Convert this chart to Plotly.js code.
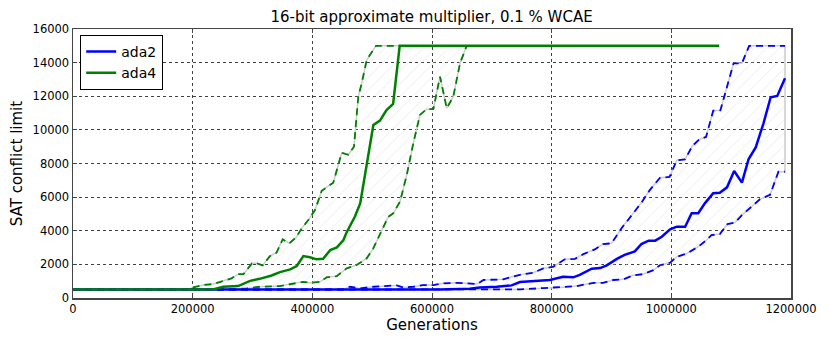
<!DOCTYPE html>
<html>
<head>
<meta charset="utf-8">
<script src="https://cdn.plot.ly/plotly-3.0.1.min.js"></script>
<style>
  html, body { margin: 0; padding: 0; background: #fff; }
  #plot { width: 830px; height: 346px; }
</style>
</head>
<body>
<div id="plot"></div>
<script>
// ada2 (blue): mean and upper / lower band
const ada2X = [0, 600000, 613000, 663000, 680000, 708000, 733000, 747000, 769000, 797000, 819000, 836000, 847000, 867000, 881000, 892000, 909000, 922000, 939000, 950000, 962000, 973000, 984000, 998000, 1009000, 1023000, 1034000, 1045000, 1056000, 1070000, 1081000, 1093000, 1105000, 1118000, 1129000, 1141000, 1154000, 1166000, 1177000, 1190000];
const ada2Y = [500, 500, 510, 550, 630, 670, 750, 950, 990, 1070, 1260, 1230, 1380, 1740, 1780, 1940, 2330, 2570, 2770, 3210, 3410, 3410, 3640, 4080, 4240, 4240, 5040, 5040, 5630, 6230, 6260, 6580, 7550, 6860, 8250, 8960, 10390, 11940, 12020, 13070];

const ada2UpX = [0, 450000, 463000, 480000, 502000, 524000, 541000, 552000, 569000, 585000, 602000, 619000, 641000, 658000, 675000, 686000, 719000, 733000, 753000, 769000, 786000, 803000, 822000, 839000, 853000, 872000, 886000, 900000, 917000, 934000, 950000, 964000, 981000, 997000, 1009000, 1023000, 1035000, 1047000, 1058000, 1070000, 1082000, 1104000, 1118000, 1130000, 1190000];
const ada2UpY = [500, 500, 670, 570, 670, 710, 750, 630, 670, 770, 770, 870, 900, 870, 830, 1070, 1110, 1260, 1420, 1500, 1760, 1860, 2300, 2330, 2610, 2890, 3210, 3250, 4160, 4930, 5670, 6420, 7150, 7200, 8190, 8250, 9040, 9440, 9580, 11140, 11160, 13960, 13960, 15000, 15000];

const ada2LoX = [0, 663000, 702000, 747000, 786000, 814000, 842000, 870000, 886000, 903000, 920000, 936000, 953000, 970000, 981000, 998000, 1009000, 1026000, 1045000, 1059000, 1067000, 1081000, 1094000, 1106000, 1118000, 1134000, 1148000, 1165000, 1179000, 1190000];
const ada2LoY = [500, 500, 510, 510, 590, 630, 710, 900, 900, 1070, 1110, 1350, 1420, 1660, 1950, 2100, 2450, 2650, 3050, 3450, 3740, 3800, 4400, 4480, 4930, 5430, 5870, 6140, 7510, 7510];

// ada4 (green): mean and upper / lower band
const ada4X = [0, 200000, 234000, 251000, 276000, 296000, 312000, 332000, 346000, 363000, 374000, 385000, 396000, 407000, 418000, 430000, 441000, 452000, 457000, 471000, 480000, 502000, 513000, 524000, 535000, 546000, 1080000];
const ada4Y = [500, 500, 510, 670, 710, 1020, 1140, 1340, 1540, 1700, 1900, 2490, 2420, 2300, 2330, 2850, 3010, 3450, 3880, 4830, 5630, 10290, 10550, 11180, 11540, 15000, 15000];

const ada4UpX = [0, 190000, 201000, 218000, 234500, 251000, 265000, 276000, 285000, 299000, 307000, 317000, 329000, 340000, 350500, 361500, 372700, 382200, 393300, 404500, 415700, 435000, 449100, 460100, 469600, 476800, 482500, 490900, 499200, 506400, 658000];
const ada4UpY = [500, 500, 630, 770, 830, 1020, 1170, 1420, 1420, 2060, 2060, 1940, 2490, 2690, 3490, 3250, 3600, 4140, 4640, 5230, 6380, 6860, 8640, 8520, 9000, 11980, 12770, 14160, 14650, 15000, 15000];

const ada4LoX = [0, 234500, 290300, 312500, 346000, 368200, 385000, 396100, 412800, 424000, 440700, 457400, 474100, 490900, 501900, 513100, 527000, 535300, 546500, 557700, 568700, 579900, 591100, 602200, 613400, 624600, 635600, 646800, 658000];
const ada4LoY = [500, 500, 570, 670, 710, 870, 960, 900, 960, 1230, 1300, 1760, 1960, 2360, 2950, 3800, 4830, 5040, 5730, 7300, 9200, 10890, 11230, 11230, 13170, 11290, 11980, 13960, 15000];

const blue = '#0000ff';
const green = '#008000';

function bandTrace(upX, upY, loX, loY) {
    // polygon: upper edge forward, lower edge back
    return {
        x: upX.concat(loX.slice().reverse()),
        y: upY.concat(loY.slice().reverse()),
        type: 'scatter',
        mode: 'lines',
        fill: 'toself',
        fillcolor: 'rgba(0,0,0,0)',
        fillpattern: { shape: '/', fgcolor: '#e2e2e2', bgcolor: 'rgba(0,0,0,0)', size: 9, solidity: 0.07 },
        line: { color: '#cccccc', width: 1.5 },
        showlegend: false,
        hoverinfo: 'skip'
    };
}

function dashTrace(x, y, color) {
    return {
        x: x, y: y,
        type: 'scatter',
        mode: 'lines',
        line: { color: color, width: 1.8, dash: '7px,5px' },
        showlegend: false
    };
}

const traces = [
    bandTrace(ada4UpX, ada4UpY, ada4LoX, ada4LoY),
    bandTrace(ada2UpX, ada2UpY, ada2LoX, ada2LoY),
    dashTrace(ada4UpX, ada4UpY, green),
    dashTrace(ada4LoX, ada4LoY, green),
    dashTrace(ada2UpX, ada2UpY, blue),
    dashTrace(ada2LoX, ada2LoY, blue),
    { x: ada2X, y: ada2Y, type: 'scatter', mode: 'lines', name: 'ada2', line: { color: blue, width: 2.5 } },
    { x: ada4X, y: ada4Y, type: 'scatter', mode: 'lines', name: 'ada4', line: { color: green, width: 2.5 } }
];

const tickFont = { family: 'DejaVu Sans', size: 11.5, color: '#000' };
const labelFont = { family: 'DejaVu Sans', size: 15, color: '#000' };

const axisCommon = {
    showline: true,
    linecolor: '#444',
    linewidth: 1.5,
    mirror: 'allticks',
    ticks: 'inside',
    ticklen: 4,
    tickcolor: '#444',
    showgrid: true,
    gridcolor: 'rgba(0,0,0,0.75)',
    griddash: 'dot',
    gridwidth: 1,
    zeroline: false,
    tickformat: 'd',
    tickfont: tickFont
};

const layout = {
    width: 830,
    height: 346,
    margin: { l: 73, r: 39, t: 29, b: 48 },
    paper_bgcolor: '#fff',
    plot_bgcolor: '#fff',
    title: {
        text: '16-bit approximate multiplier, 0.1 % WCAE',
        font: { family: 'DejaVu Sans', size: 15, color: '#000' },
        x: 0.52, xanchor: 'center',
        y: 0.951, yanchor: 'middle'
    },
    xaxis: Object.assign({}, axisCommon, {
        range: [0, 1200000],
        dtick: 200000,
        title: { text: 'Generations', font: labelFont, standoff: 4 }
    }),
    yaxis: Object.assign({}, axisCommon, {
        range: [0, 16000],
        dtick: 2000,
        title: { text: 'SAT conflict limit', font: labelFont, standoff: 6 }
    }),
    legend: {
        x: 0.01, y: 0.978, xanchor: 'left', yanchor: 'top',
        bgcolor: '#fff',
        bordercolor: '#000',
        borderwidth: 1,
        font: { family: 'DejaVu Sans', size: 14, color: '#000' },
        tracegroupgap: 0
    },
    showlegend: true
};

Plotly.newPlot('plot', traces, layout, { displayModeBar: false, staticPlot: true });
</script>
</body>
</html>
